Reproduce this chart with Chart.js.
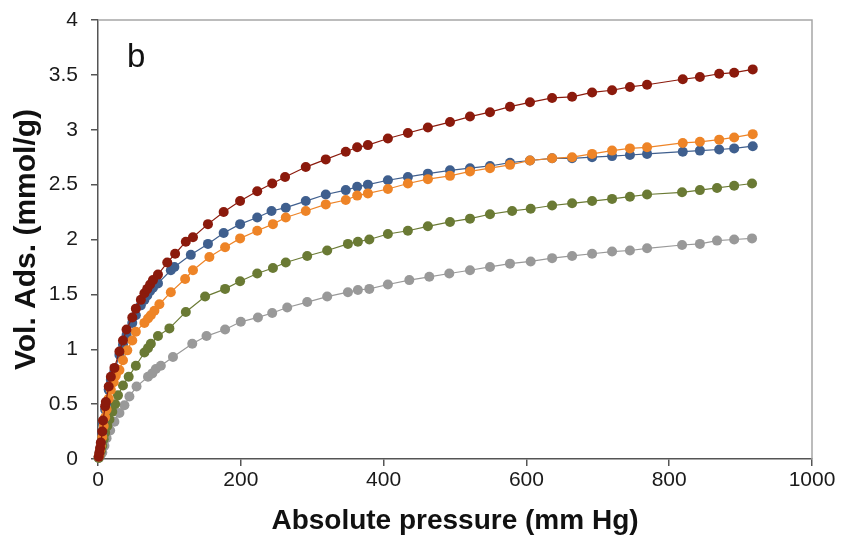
<!DOCTYPE html>
<html>
<head>
<meta charset="utf-8">
<script src="https://cdn.jsdelivr.net/npm/chart.js@4/dist/chart.umd.min.js"></script>
<style>
  html, body { margin: 0; padding: 0; background: #fff; }
  #wrap { width: 846px; height: 540px; }
</style>
</head>
<body>
<div id="wrap"><canvas id="isoChart"></canvas></div>
<script>
// pressure (mm Hg) and adsorbed volume (mmol/g) for each isotherm
const redP = [1, 2, 3, 4, 6, 7, 10, 11, 15, 18, 23, 30, 35, 40, 48, 53, 60, 65, 69, 73, 77, 84, 97, 108, 123, 133, 154, 176, 199, 223, 244, 262, 291, 319, 347, 363, 378, 406, 434, 462, 493, 521, 549, 577, 605, 636, 664, 692, 720, 745, 769, 819, 843, 870, 891, 917];
const redV = [0.02, 0.06, 0.10, 0.15, 0.25, 0.35, 0.48, 0.52, 0.66, 0.75, 0.83, 0.98, 1.08, 1.18, 1.29, 1.37, 1.45, 1.51, 1.55, 1.59, 1.63, 1.68, 1.79, 1.87, 1.98, 2.02, 2.14, 2.25, 2.35, 2.44, 2.51, 2.57, 2.66, 2.73, 2.80, 2.84, 2.86, 2.92, 2.97, 3.02, 3.07, 3.12, 3.16, 3.21, 3.25, 3.29, 3.30, 3.34, 3.36, 3.39, 3.41, 3.46, 3.48, 3.51, 3.52, 3.55];

const blueP = [1, 2, 3, 4, 6, 7, 10, 11, 15, 18, 23, 30, 35, 40, 48, 53, 60, 65, 69, 73, 77, 84, 102, 107, 130, 154, 176, 199, 223, 243, 263, 291, 319, 347, 363, 378, 406, 434, 462, 493, 521, 549, 577, 605, 636, 664, 692, 720, 745, 769, 819, 843, 870, 891, 917];
const blueV = [0.02, 0.05, 0.09, 0.14, 0.23, 0.32, 0.45, 0.50, 0.63, 0.72, 0.80, 0.95, 1.04, 1.13, 1.24, 1.31, 1.40, 1.45, 1.49, 1.53, 1.56, 1.60, 1.72, 1.75, 1.86, 1.96, 2.06, 2.14, 2.20, 2.26, 2.29, 2.35, 2.41, 2.45, 2.48, 2.50, 2.54, 2.57, 2.60, 2.63, 2.65, 2.67, 2.70, 2.72, 2.74, 2.74, 2.75, 2.76, 2.77, 2.78, 2.80, 2.81, 2.82, 2.83, 2.85];

const orangeP = [1, 2, 3, 4, 6, 8, 10, 12, 15, 18, 22, 25, 30, 35, 41, 48, 53, 65, 70, 74, 79, 86, 102, 122, 133, 156, 178, 199, 223, 245, 263, 291, 319, 347, 363, 378, 406, 434, 462, 493, 521, 549, 577, 605, 636, 664, 692, 720, 745, 769, 819, 843, 870, 891, 917];
const orangeV = [0.02, 0.04, 0.08, 0.12, 0.20, 0.30, 0.38, 0.45, 0.55, 0.63, 0.70, 0.76, 0.81, 0.90, 0.99, 1.08, 1.16, 1.24, 1.28, 1.31, 1.35, 1.41, 1.52, 1.64, 1.72, 1.84, 1.93, 2.01, 2.08, 2.14, 2.20, 2.26, 2.32, 2.36, 2.40, 2.42, 2.46, 2.51, 2.55, 2.58, 2.62, 2.65, 2.68, 2.72, 2.74, 2.75, 2.78, 2.81, 2.83, 2.84, 2.88, 2.89, 2.91, 2.93, 2.96];

const greenP = [1, 2, 4, 6, 8, 10, 13, 16, 20, 24, 28, 35, 43, 53, 65, 70, 74, 84, 100, 123, 150, 178, 199, 223, 245, 263, 293, 321, 350, 364, 380, 406, 434, 462, 493, 521, 549, 580, 606, 636, 664, 692, 720, 745, 769, 818, 843, 867, 891, 916];
const greenV = [0.01, 0.03, 0.07, 0.12, 0.18, 0.24, 0.30, 0.36, 0.43, 0.50, 0.58, 0.67, 0.75, 0.85, 0.97, 1.01, 1.05, 1.12, 1.19, 1.34, 1.48, 1.55, 1.62, 1.69, 1.74, 1.79, 1.85, 1.90, 1.96, 1.98, 2.00, 2.05, 2.08, 2.12, 2.16, 2.19, 2.23, 2.26, 2.28, 2.31, 2.33, 2.35, 2.37, 2.39, 2.41, 2.43, 2.45, 2.47, 2.49, 2.51];

const grayP = [1, 2, 4, 6, 9, 12, 17, 23, 30, 37, 44, 54, 70, 76, 81, 88, 105, 132, 152, 178, 200, 224, 244, 265, 293, 321, 350, 364, 380, 406, 436, 464, 492, 521, 549, 577, 606, 636, 664, 692, 720, 745, 769, 818, 843, 867, 891, 916];
const grayV = [0.01, 0.02, 0.04, 0.06, 0.12, 0.19, 0.26, 0.34, 0.42, 0.49, 0.57, 0.66, 0.75, 0.78, 0.82, 0.85, 0.93, 1.05, 1.12, 1.18, 1.25, 1.29, 1.33, 1.38, 1.43, 1.48, 1.52, 1.54, 1.55, 1.59, 1.63, 1.66, 1.69, 1.72, 1.75, 1.78, 1.80, 1.83, 1.85, 1.87, 1.89, 1.90, 1.92, 1.95, 1.96, 1.99, 2.00, 2.01];

const xTicks = [0, 200, 400, 600, 800, 1000];
const yTicks = [0, 0.5, 1, 1.5, 2, 2.5, 3, 3.5, 4];

function toPoints(px, vy) {
    return px.map((p, i) => ({ x: p, y: vy[i] }));
}

function series(px, vy, color) {
    return {
        data: toPoints(px, vy),
        borderColor: color,
        backgroundColor: color,
        pointBackgroundColor: color,
        pointBorderColor: color,
        pointBorderWidth: 0,
        pointRadius: 5,
        borderWidth: 1.2,
        showLine: true,
        tension: 0,
        clip: false
    };
}

// frame on top and right, plus the panel letter
const extras = {
    id: 'extras',
    afterDraw(chart) {
        const { ctx, chartArea } = chart;
        ctx.save();
        ctx.strokeStyle = '#a6a6a6';
        ctx.lineWidth = 1.5;
        ctx.beginPath();
        ctx.moveTo(chartArea.left, chartArea.top);
        ctx.lineTo(chartArea.right, chartArea.top);
        ctx.lineTo(chartArea.right, chartArea.bottom);
        ctx.stroke();
        ctx.fillStyle = '#111';
        ctx.font = '33px "Liberation Sans", Arial, sans-serif';
        ctx.textBaseline = 'alphabetic';
        ctx.fillText('b', chartArea.left + 29, chartArea.top + 47);
        ctx.restore();
    }
};

const tickFont = { family: '"Liberation Sans", Arial, sans-serif', size: 21 };
const xTitleFont = { family: '"Liberation Sans", Arial, sans-serif', size: 28, weight: 'bold' };
const yTitleFont = { family: '"Liberation Sans", Arial, sans-serif', size: 30, weight: 'bold' };

new Chart(document.getElementById('isoChart'), {
    type: 'scatter',
    data: {
        datasets: [
            series(redP, redV, '#8b1a0c'),
            series(orangeP, orangeV, '#ee8427'),
            series(blueP, blueV, '#3f5f8e'),
            series(greenP, greenV, '#6a7a34'),
            series(grayP, grayV, '#999999')
        ]
    },
    options: {
        responsive: true,
        maintainAspectRatio: false,
        animation: false,
        layout: { padding: { top: 20, right: 34, left: 0, bottom: 0 } },
        plugins: {
            legend: { display: false },
            tooltip: { enabled: false }
        },
        scales: {
            x: {
                type: 'linear',
                min: 0,
                max: 1000,
                afterBuildTicks: axis => { axis.ticks = xTicks.map(v => ({ value: v })); },
                afterFit: axis => { axis.height = 81; },
                grid: { drawOnChartArea: false, drawTicks: true, tickLength: 7, color: '#555', lineWidth: 1.5 },
                border: { color: '#555', width: 1.5 },
                ticks: { color: '#1a1a1a', font: tickFont, padding: 2, maxRotation: 0, callback: v => String(v) },
                title: { display: true, text: 'Absolute pressure (mm Hg)', color: '#111', font: xTitleFont, padding: { top: 0, bottom: 2 } }
            },
            y: {
                min: 0,
                max: 4,
                afterBuildTicks: axis => { axis.ticks = yTicks.map(v => ({ value: v })); },
                afterFit: axis => { axis.width = 98; axis.paddingTop = 0; },
                grid: { drawOnChartArea: false, drawTicks: true, tickLength: 7, color: '#555', lineWidth: 1.5 },
                border: { color: '#555', width: 1.5 },
                ticks: { color: '#1a1a1a', font: tickFont, padding: 13, callback: v => String(v) },
                title: { display: true, text: 'Vol. Ads. (mmol/g)', color: '#111', font: yTitleFont, padding: { top: 9, bottom: 0 } }
            }
        }
    },
    plugins: [extras]
});
</script>
</body>
</html>
